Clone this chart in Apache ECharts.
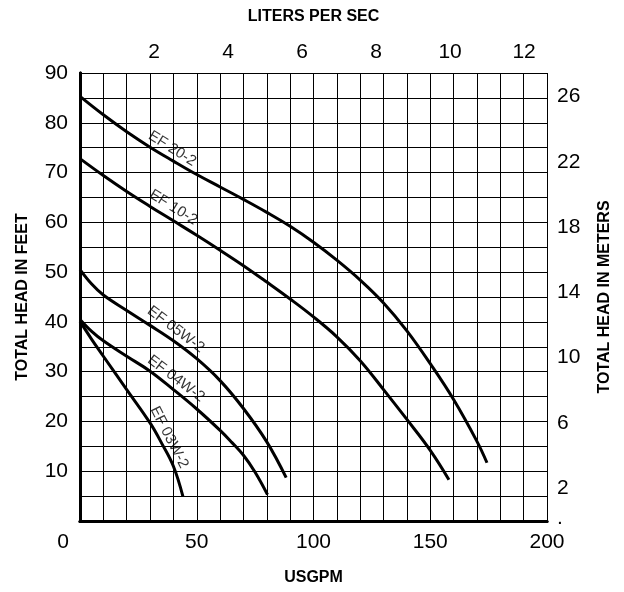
<!DOCTYPE html>
<html>
<head>
<meta charset="utf-8">
<script src="https://cdn.jsdelivr.net/npm/echarts@6/dist/echarts.min.js"></script>
<style>
html,body{margin:0;padding:0;background:#fff;}
#c{width:624px;height:592px;}
</style>
</head>
<body>
<div id="c"></div>
<script>
// ---- data (x = USGPM, y = total head in feet) ----
var ef20_2  = [[0,85.3],[10,81.6],[20,78.2],[30,75.1],[40,72.3],[50,69.6],[60,67.1],[70,64.6],[80,62],[90,59.2],[100,56],[110,52.4],[120,48.4],[130,43.8],[140,38.2],[150,31.6],[160,24.4],[170,16],[174.3,11.7]];
var ef10_2  = [[0,72.8],[10,69.4],[20,66.2],[30,63.2],[40,60.3],[50,57.4],[60,54.4],[70,51.3],[80,48],[90,44.6],[100,41],[110,37],[120,32.2],[130,26.4],[140,20.4],[150,14.2],[158,8.3]];
var ef05w_2 = [[0,50.5],[5,47.6],[10,45.4],[20,42.3],[30,39.3],[40,36.2],[50,32.6],[60,28.2],[70,22.6],[80,15.9],[88.3,8.7]];
var ef04w_2 = [[0,40.5],[5,38.1],[10,36.2],[20,33.1],[30,30.1],[40,26.4],[50,22.5],[60,18.2],[65,15.8],[70,13.2],[75,9.8],[80.3,5.3]];
var ef03w_2 = [[0,40.1],[5,36.5],[10,33.1],[20,26.4],[30,19.7],[35,15.6],[40,11],[44.1,4.9]];

var seriesNames = ['EF 20-2','EF 10-2','EF 05W-2','EF 04W-2','EF 03W-2'];
// label anchor points (USGPM, feet)
var labelAnchors = [[39.5,74.8],[40,63],[41,38.5],[41.1,28.6],[38.2,16.8]];

var gpmTicks = [0,50,100,150,200];
var lpsTicks = [2,4,6,8,10,12];
var feetTicks = [10,20,30,40,50,60,70,80,90];
var meterTicks = [2,6,10,14,18,22,26];

var GPM_PER_LPS = 15.850;
var FT_PER_M = 3.28084;

// ---- chart ----
var FONT = "'Liberation Sans',Arial,sans-serif";
var chart = echarts.init(document.getElementById('c'), null, {renderer:'canvas'});

var tickFont = {fontFamily: FONT, fontSize: 21, color: '#000'};
var nameFont = {fontFamily: FONT, fontSize: 16, fontWeight: 'bold', color: '#000'};
var axisLine = {show: true, lineStyle: {color: '#000', width: 3}};
var split = {show: true, lineStyle: {color: '#000', width: 1}};

var curves = [ef20_2, ef10_2, ef05w_2, ef04w_2, ef03w_2];
var rotations = [-32, -32, -37, -37, -63];

var series = curves.map(function (d, i) {
  return {
    name: seriesNames[i], type: 'line', data: d, xAxisIndex: 0, yAxisIndex: 0,
    smooth: 0.4, showSymbol: false, symbol: 'none',
    lineStyle: {color: '#000', width: 3}, z: 5, silent: true
  };
});
labelAnchors.forEach(function (p, i) {
  series.push({
    type: 'scatter', xAxisIndex: 0, yAxisIndex: 0, symbolSize: 0, silent: true, z: 6,
    data: [[p[0], p[1]]],
    label: {show: true, position: 'inside', formatter: seriesNames[i], rotate: rotations[i],
      fontFamily: FONT, fontSize: 15, color: '#000', fontWeight: 'normal'}
  });
});

var option = {
  backgroundColor: '#fff',
  animation: false,
  grid: {left: 80, right: 77, top: 73, bottom: 71, containLabel: false},
  xAxis: [
    {
      type: 'value', position: 'bottom', min: 0, max: 200, interval: 10,
      name: 'USGPM', nameLocation: 'middle', nameGap: 49, nameTextStyle: nameFont,
      axisLine: axisLine, axisTick: {show: false}, splitLine: split,
      axisLabel: Object.assign({}, tickFont, {
        margin: 11, showMaxLabel: true, showMinLabel: true,
        formatter: function (v) {
          if (v === 0) return '{z|0}';
          return gpmTicks.indexOf(v) >= 0 ? String(v) : '';
        },
        rich: {z: {fontFamily: FONT, fontSize: 21, color: '#000', padding: [0, 34, 0, 0]}}
      })
    },
    {
      type: 'value', position: 'top', min: 0, max: 200 / GPM_PER_LPS, interval: 2,
      name: 'LITERS PER SEC', nameLocation: 'middle', nameGap: 48, nameTextStyle: nameFont,
      axisLine: axisLine, axisTick: {show: false}, splitLine: {show: false},
      axisLabel: Object.assign({}, tickFont, {
        margin: 10,
        formatter: function (v) { return lpsTicks.indexOf(v) >= 0 ? String(v) : ''; }
      })
    }
  ],
  yAxis: [
    {
      type: 'value', position: 'left', min: 0, max: 90, interval: 5,
      name: 'TOTAL HEAD IN FEET', nameLocation: 'middle', nameGap: 49, nameRotate: 90,
      nameTextStyle: nameFont,
      axisLine: axisLine, axisTick: {show: false}, splitLine: split,
      axisLabel: Object.assign({}, tickFont, {
        margin: 12,
        formatter: function (v) { return feetTicks.indexOf(v) >= 0 ? String(v) : ''; }
      })
    },
    {
      type: 'value', position: 'right', min: 0, max: 90 / FT_PER_M, interval: 2,
      name: 'TOTAL HEAD IN METERS', nameLocation: 'middle', nameGap: 50, nameRotate: 90,
      nameTextStyle: nameFont,
      axisLine: axisLine, axisTick: {show: false}, splitLine: {show: false},
      axisLabel: Object.assign({}, tickFont, {
        margin: 10,
        formatter: function (v) {
          if (v === 0) return '{d|.}';
          return meterTicks.indexOf(v) >= 0 ? String(v) : '';
        },
        rich: {d: {fontFamily: FONT, fontSize: 21, color: '#000', padding: [0, 0, 6, 0]}}
      })
    }
  ],
  series: series
};
chart.setOption(option);
</script>
</body>
</html>
